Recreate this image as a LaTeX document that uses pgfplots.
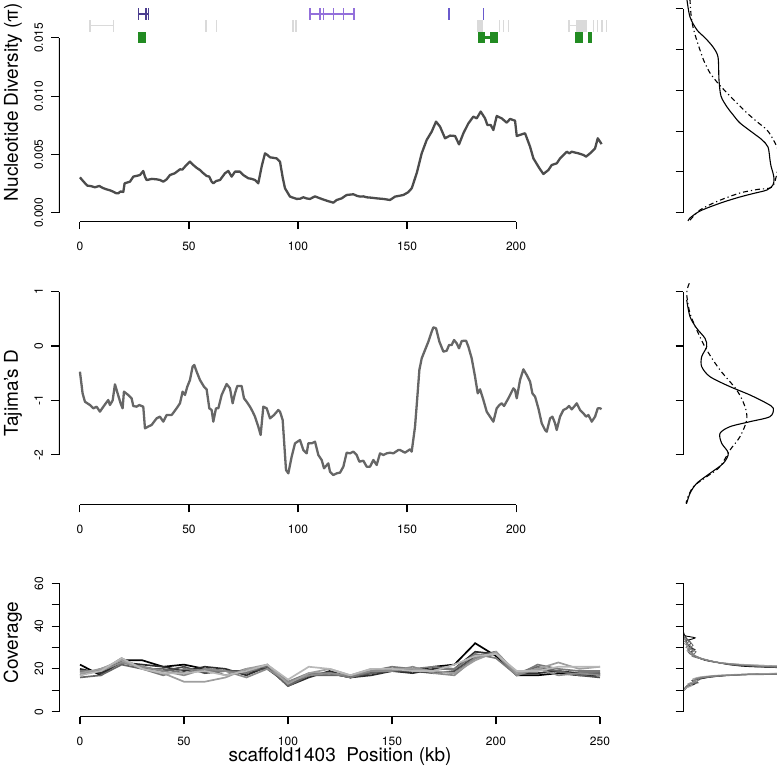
\documentclass[border=0pt]{standalone}
\usepackage{fontspec}
\setmainfont{TeX Gyre Heros}
\usepackage{pgfplots}
\pgfplotsset{compat=1.18}
\definecolor{darkslate}{HTML}{4B3D8F}
\definecolor{medpurple}{HTML}{9370DB}
\definecolor{slatepurple}{HTML}{6A5ACD}
\definecolor{fgreen}{HTML}{228B22}
\definecolor{annogray}{HTML}{DADADA}
\pgfplotsset{
  rbase/.style={scale only axis, tick align=outside, major tick length=7.5pt,
    tick style={black, line width=1.1pt},
    /pgf/number format/assume math mode=true, scaled ticks=false,
    axis x line*=bottom, axis y line*=left, axis line style={draw=none},
    xticklabel style={font=\fontsize{12}{14}\selectfont, anchor=north, inner sep=0pt, yshift=-12.5pt},
    yticklabel style={font=\fontsize{12}{14}\selectfont, rotate=90, anchor=base, inner sep=0pt, yshift=8.5pt},
    unbounded coords=jump, clip=true},
  rdens/.style={scale only axis, tick align=outside, major tick length=7.5pt,
    tick style={black, line width=1.1pt}, scaled ticks=false,
    hide x axis, axis y line*=left, axis line style={draw=none}, yticklabels={},
    xmin=0, xmax=94, width=94pt},
  solidd/.style={black, line width=1.1pt, smooth, tension=0.5},
  dashd/.style={black, line width=1.1pt, smooth, tension=0.5, dash pattern=on 5pt off 3pt on 1.2pt off 3pt},
}
\begin{document}
\begin{tikzpicture}
\useasboundingbox (0,0) rectangle (777pt,772pt);
%================ Panel 1: nucleotide diversity
\begin{axis}[rbase, at={(59pt,550.3pt)}, anchor=south west, width=565pt, height=221.7pt,
  xmin=-9.6, xmax=249.5, ymin=-0.000772, ymax=0.018241,
  xtick={0,50,100,150,200}, xticklabels={0,50,100,150,200},
  ytick={0,0.005,0.010,0.015}, yticklabels={0.000,0.005,0.010,0.015},
  ylabel={Nucleotide Diversity (π)},
  every axis y label/.style={at={(axis description cs:-0.0726,0.54)}, rotate=90, anchor=base, font=\fontsize{19}{22}\selectfont}]
\addplot[color=black!70, line width=2.3pt, line join=round] coordinates {
(0,0.00303)(1.5,0.00270)(3.36,0.00232)(5,0.00228)(6.88,0.00218)(8.87,0.00229)(10.5,0.00212)(12.23,0.00200)(13.8,0.00192)(15.29,0.00180)(16.5,0.00168)(17.58,0.00166)(18.6,0.00182)(19.88,0.00178)(20.5,0.00252)(22.94,0.00266)(24.46,0.00309)(26,0.00316)(27.52,0.00323)(29.05,0.00358)(29.82,0.00309)(30.58,0.00280)(33,0.00290)(35.17,0.00286)(36.8,0.00280)(38.23,0.00266)(39.76,0.00286)(41.28,0.00323)(43.5,0.00338)(45.87,0.00372)(47,0.00370)(48.17,0.00395)(50.46,0.00438)(51.99,0.00409)(53.5,0.00385)(55.05,0.00366)(56.5,0.00340)(58.10,0.00315)(59.3,0.00310)(60.40,0.00266)(61.16,0.00252)(62.5,0.00272)(64.22,0.00280)(66.51,0.00338)(68.04,0.00358)(69.57,0.00309)(71.10,0.00352)(73.39,0.00352)(74.92,0.00323)(77.22,0.00295)(78.8,0.00290)(80.28,0.00280)(81.80,0.00252)(83.33,0.00395)(84.86,0.00509)(86,0.00495)(87.16,0.00475)(90.21,0.00466)(91.74,0.00438)(93,0.00300)(94.04,0.00209)(96.33,0.00138)(99.39,0.00118)(101,0.00120)(102.45,0.00132)(104,0.00122)(105.50,0.00118)(107.80,0.00140)(110.09,0.00123)(113.15,0.00103)(116.21,0.00086)(117.74,0.00109)(120.03,0.00123)(122.32,0.00152)(125.38,0.00158)(127,0.00145)(128.44,0.00138)(130,0.00140)(131.50,0.00132)(134,0.00128)(136.09,0.00123)(139.14,0.00118)(142.20,0.00109)(144.50,0.00138)(146.79,0.00146)(148.32,0.00152)(150.5,0.00175)(152.14,0.00209)(154.43,0.00338)(156.73,0.00509)(159.02,0.00624)(161.31,0.00695)(163.30,0.00781)(165.14,0.00738)(167.43,0.00638)(169.72,0.00661)(172.02,0.00658)(173.85,0.00586)(175.84,0.00681)(178.13,0.00766)(180.43,0.00824)(181.96,0.00809)(183.79,0.00867)(185.78,0.00809)(186.85,0.00752)(188.38,0.00752)(189.60,0.00709)(191.13,0.00829)(193.43,0.00809)(195.72,0.00772)(197.25,0.00804)(199.54,0.00789)(200.31,0.00658)(202.60,0.00672)(204.13,0.00681)(206.42,0.00566)(207.95,0.00466)(210.70,0.00381)(212.54,0.00332)(214.83,0.00366)(216.36,0.00409)(218.65,0.00423)(220.18,0.00466)(223.24,0.00523)(224.46,0.00509)(225.53,0.00523)(228.59,0.00509)(230.89,0.00495)(232.11,0.00481)(233.94,0.00509)(236.24,0.00552)(237.46,0.00638)(238.53,0.00609)(239.2,0.00588)};
% annotations: gray
\addplot[annogray, line width=1.4pt] coordinates {(4.6,0.01552)(4.6,0.01653)(nan,nan)(15.3,0.01552)(15.3,0.01653)(nan,nan)(4.6,0.01603)(15.3,0.01603)(nan,nan)
 (57.8,0.01552)(57.8,0.01653)(nan,nan)(62.7,0.01552)(62.7,0.01653)(nan,nan)(97.8,0.01552)(97.8,0.01653)(nan,nan)(99.0,0.01552)(99.0,0.01653)(nan,nan)
 (192.5,0.01552)(192.5,0.01653)(nan,nan)(194.3,0.01552)(194.3,0.01653)(nan,nan)(196.4,0.01552)(196.4,0.01653)(nan,nan)
 (224.2,0.01552)(224.2,0.01653)(nan,nan)(224.2,0.01603)(227.7,0.01603)(nan,nan)(235.5,0.01552)(235.5,0.01653)(nan,nan)
 (237.3,0.01552)(237.3,0.01653)(nan,nan)(239.4,0.01552)(239.4,0.01653)(nan,nan)(241.4,0.01552)(241.4,0.01653)};
\addplot[fill=annogray, draw=none] coordinates {(182.0,0.01552)(185.0,0.01552)(185.0,0.01653)(182.0,0.01653)} -- cycle;
\addplot[fill=annogray, draw=none] coordinates {(227.7,0.01552)(232.4,0.01552)(232.4,0.01653)(227.7,0.01653)} -- cycle;
% purple annotations
\addplot[darkslate, line width=1.4pt] coordinates {(26.9,0.01653)(26.9,0.01753)(nan,nan)(30.3,0.01653)(30.3,0.01753)(nan,nan)(31.5,0.01653)(31.5,0.01753)(nan,nan)(26.9,0.01704)(31.5,0.01704)};
\addplot[medpurple, line width=1.4pt] coordinates {(105.5,0.01653)(105.5,0.01753)(nan,nan)(110.1,0.01653)(110.1,0.01753)(nan,nan)(111.6,0.01653)(111.6,0.01753)(nan,nan)(116.2,0.01653)(116.2,0.01753)(nan,nan)(120.8,0.01653)(120.8,0.01753)(nan,nan)(125.7,0.01653)(125.7,0.01753)(nan,nan)(105.5,0.01704)(125.7,0.01704)};
\addplot[slatepurple, line width=1.4pt] coordinates {(169.3,0.01653)(169.3,0.01753)(nan,nan)(185.0,0.01653)(185.0,0.01753)};
% green annotations
\addplot[fill=fgreen, draw=none] coordinates {(26.8,0.01453)(30.3,0.01453)(30.3,0.01552)(26.8,0.01552)} -- cycle;
\addplot[fill=fgreen, draw=none] coordinates {(182.4,0.01453)(185.8,0.01453)(185.8,0.01552)(182.4,0.01552)} -- cycle;
\addplot[fill=fgreen, draw=none] coordinates {(185.8,0.01490)(188.1,0.01490)(188.1,0.01515)(185.8,0.01515)} -- cycle;
\addplot[fill=fgreen, draw=none] coordinates {(188.1,0.01453)(191.6,0.01453)(191.6,0.01552)(188.1,0.01552)} -- cycle;
\addplot[fill=fgreen, draw=none] coordinates {(227.1,0.01453)(230.9,0.01453)(230.9,0.01552)(227.1,0.01552)} -- cycle;
\addplot[fill=fgreen, draw=none] coordinates {(233.2,0.01453)(234.7,0.01453)(234.7,0.01552)(233.2,0.01552)} -- cycle;
\draw[black, line width=1.1pt] (axis cs:0,-0.000772) -- (axis cs:200,-0.000772);
\draw[black, line width=1.1pt] (axis cs:-9.6,0) -- (axis cs:-9.6,0.015);
\end{axis}
\begin{axis}[rdens, at={(683pt,550.3pt)}, anchor=south west, height=221.7pt,
  ymin=-0.000772, ymax=0.018241, ytick={0,0.0035,0.007,0.0105,0.014,0.0175}]
\addplot[solidd] coordinates {(5,-0.00071)(7,-0.00045)(15,0.00005)(24,0.00040)(40,0.00090)(57,0.00135)(72,0.00168)(84,0.00195)(90,0.00238)(91,0.00290)(90,0.00340)(88,0.00400)(87,0.00452)(85,0.00563)(79,0.00625)(70,0.00684)(57,0.00769)(50,0.00840)(44,0.00907)(38,0.01000)(36,0.01138)(35,0.01335)(30,0.01421)(22,0.01500)(14,0.01567)(7,0.01678)(4,0.01824)};
\addplot[dashd] coordinates {(7,-0.00064)(17,0.00023)(35,0.00100)(57,0.00169)(75,0.00200)(89,0.00220)(94,0.00340)(95,0.00440)(95,0.00538)(90,0.00630)(84,0.00709)(74,0.00780)(64,0.00855)(54,0.00940)(44,0.01027)(35,0.01110)(27,0.01198)(21,0.01300)(17,0.01395)(13,0.01500)(10,0.01592)(8,0.01700)(7,0.01824)};
\draw[black, line width=1.1pt] (axis cs:0,0) -- (axis cs:0,0.0175);
\end{axis}
%================ Panel 2: Tajima's D
\begin{axis}[rbase, at={(59pt,267pt)}, anchor=south west, width=565pt, height=224pt,
  xmin=-9.6, xmax=249.5, ymin=-2.921, ymax=1.194,
  xtick={0,50,100,150,200}, xticklabels={0,50,100,150,200},
  ytick={-2,-1,0,1}, yticklabels={-2,-1,0,1},
  ylabel={Tajima's D},
  every axis y label/.style={at={(axis description cs:-0.0726,0.5)}, rotate=90, anchor=base, font=\fontsize{19}{22}\selectfont}]
\addplot[color=black!60, line width=2.3pt, line join=round] coordinates {
(0,-0.472)(1.22,-0.870)(2.29,-1.023)(4.59,-1.084)(6.12,-1.145)(7.65,-1.115)(9.17,-1.206)(11,-1.100)(13.00,-0.992)(13.76,-1.084)(15,-1.00)(16.06,-0.704)(17.5,-0.900)(18.65,-1.053)(19.57,-1.145)(20.18,-0.839)(22.17,-0.900)(23.70,-0.961)(24.46,-1.102)(25.99,-1.115)(27.22,-1.084)(29.05,-1.115)(29.82,-1.513)(31.3,-1.48)(32.87,-1.451)(35.17,-1.329)(36.70,-1.298)(38.23,-1.390)(39.76,-1.268)(42.05,-1.268)(44.34,-1.145)(45.87,-1.053)(47.09,-0.839)(48.17,-0.900)(49.24,-0.747)(50.46,-0.625)(51.68,-0.380)(52.45,-0.349)(53.52,-0.472)(55.05,-0.625)(56.88,-0.747)(58.10,-0.796)(59.33,-1.145)(60.40,-1.176)(61.16,-1.390)(62.39,-1.145)(63.46,-1.145)(64.98,-0.900)(67.28,-0.698)(68.81,-0.778)(70.03,-1.053)(71.10,-0.870)(72.17,-0.735)(74.16,-0.735)(75.23,-0.961)(76.45,-1.023)(77.98,-1.115)(79.20,-1.206)(80.28,-1.298)(81.80,-1.482)(82.87,-1.635)(84.10,-1.115)(85.63,-1.145)(87.16,-1.329)(88.99,-1.268)(90.98,-1.176)(91.74,-1.206)(92.97,-1.359)(94.50,-2.278)(95.57,-2.339)(97.09,-2.033)(98.62,-1.788)(100.92,-1.727)(102.45,-1.911)(103.98,-1.972)(104.74,-1.788)(106.27,-1.788)(107.80,-1.758)(109.33,-2.002)(110.86,-2.094)(111.93,-2.247)(113.91,-2.156)(114.68,-2.309)(116.21,-2.370)(117.74,-2.339)(119.27,-2.327)(120.80,-2.217)(122.32,-1.960)(123.85,-1.972)(125.38,-1.941)(126.91,-2.002)(128.13,-2.125)(129.97,-2.107)(131.50,-2.217)(133.03,-2.217)(134.56,-2.094)(136.09,-2.186)(137.61,-1.972)(139.14,-2.002)(140.67,-1.972)(142.20,-1.960)(143.73,-1.972)(146.02,-1.911)(146.79,-1.911)(149.08,-1.960)(151.38,-1.898)(152.14,-1.941)(153.67,-1.482)(154.74,-0.931)(155.66,-0.441)(156.73,-0.227)(158.26,-0.073)(159.79,0.080)(161.31,0.263)(162.08,0.343)(163.30,0.325)(164.83,0.080)(166.67,-0.104)(168.20,-0.086)(169.27,0.018)(170.49,0.018)(171.56,0.110)(172.78,0.049)(173.85,-0.043)(175.08,0.092)(177.06,0.098)(178.13,-0.012)(179.66,-0.227)(181.19,-0.563)(182.42,-0.870)(183.49,-0.796)(185.02,-0.992)(186.54,-1.206)(188.07,-1.298)(189.60,-1.390)(191.13,-1.145)(192.35,-1.084)(193.43,-1.053)(194.50,-1.102)(196.48,-0.961)(198.78,-0.778)(199.54,-0.808)(200.31,-0.961)(201.83,-0.625)(203.36,-0.429)(204.89,-0.533)(206.42,-0.655)(207.49,-0.870)(208.72,-0.931)(210.24,-1.145)(211.77,-1.421)(213.30,-1.543)(214.07,-1.574)(215.60,-1.329)(216.67,-1.298)(217.89,-1.421)(218.65,-1.543)(220.18,-1.298)(221.71,-1.176)(223.24,-1.145)(224.31,-1.102)(225.53,-1.164)(226.61,-1.115)(227.83,-1.053)(229.36,-1.176)(230.89,-1.237)(232.11,-1.298)(233.18,-1.268)(234.71,-1.390)(236.24,-1.298)(237.46,-1.145)(238.53,-1.145)(239.2,-1.16)};
\draw[black, line width=1.1pt] (axis cs:0,-2.921) -- (axis cs:200,-2.921);
\draw[black, line width=1.1pt] (axis cs:-9.6,-2) -- (axis cs:-9.6,1);
\end{axis}
\begin{axis}[rdens, at={(683pt,267pt)}, anchor=south west, height=224pt,
  ymin=-2.921, ymax=1.194, ytick={-2,-1,0,1}]
\addplot[solidd] coordinates {(3.7,0.845)(7,0.538)(13.7,0.325)(22,0.141)(23.7,-0.012)(18.7,-0.196)(18.7,-0.380)(27,-0.564)(47,-0.747)(67,-0.900)(83.7,-1.053)(90.3,-1.145)(87,-1.298)(67,-1.390)(47,-1.482)(37,-1.604)(38.7,-1.788)(45.3,-1.971)(40.3,-2.155)(27,-2.339)(13.7,-2.523)(7,-2.706)(3.7,-2.890)};
\addplot[dashd] coordinates {(6.3,1.152)(3.7,0.968)(7,0.601)(15.3,0.233)(23.7,-0.073)(37,-0.441)(53.7,-0.808)(62,-1.115)(63.7,-1.360)(57,-1.666)(47,-1.911)(37,-2.217)(23.7,-2.401)(10.3,-2.585)(3.7,-2.829)(3.5,-2.90)};
\draw[black, line width=1.1pt] (axis cs:0,-2) -- (axis cs:0,1);
\end{axis}
%================ Panel 3: Coverage
\begin{axis}[rbase, at={(59.2pt,55.2pt)}, anchor=south west, width=561.6pt, height=138.6pt,
  xmin=-10, xmax=260, ymin=-2.4, ymax=62.4,
  xtick={0,50,100,150,200,250}, xticklabels={0,50,100,150,200,250},
  ytick={0,10,20,30,40,50,60}, yticklabels={0,,20,,40,,60},
  ylabel={Coverage}, xlabel={scaffold1403\ \ Position (kb)},
  every axis y label/.style={at={(axis description cs:-0.0734,0.536)}, rotate=90, anchor=base, font=\fontsize{19}{22}\selectfont},
  every axis x label/.style={at={(axis description cs:0.5,-0.324)}, anchor=base, font=\fontsize{19}{22}\selectfont},
  cycle list={{black,line width=1.7pt},{black!82,line width=1.7pt},{black!70,line width=1.7pt},{black!60,line width=1.7pt},{black!52,line width=1.7pt},{black!45,line width=1.7pt},{black!38,line width=1.7pt},{black!28,line width=1.7pt}}]
\addplot coordinates {(0,22)(10,17)(20,24)(30,24)(40,21)(50,22)(60,20)(70,19)(80,18)(90,21)(100,13)(110,17)(120,18)(130,16)(140,18)(150,20)(160,19)(170,21)(180,22)(190,32)(200,26)(210,17)(220,17)(230,18)(240,17)(250,17)};
\addplot coordinates {(0,20)(10,18)(20,23)(30,22)(40,21)(50,19)(60,21)(70,20)(80,17)(90,21)(100,12)(110,16)(120,19)(130,16)(140,17)(150,19)(160,18)(170,20)(180,20)(190,28)(200,27)(210,18)(220,18)(230,19)(240,18)(250,18)};
\addplot coordinates {(0,17)(10,20)(20,23)(30,21)(40,19)(50,21)(60,18)(70,19)(80,19)(90,20)(100,13)(110,17)(120,18)(130,16)(140,18)(150,19)(160,19)(170,18)(180,19)(190,26)(200,28)(210,17)(220,20)(230,19)(240,17)(250,16)};
\addplot coordinates {(0,16)(10,17)(20,22)(30,20)(40,20)(50,18)(60,20)(70,17)(80,20)(90,21)(100,12)(110,17)(120,17)(130,17)(140,18)(150,20)(160,20)(170,19)(180,18)(190,25)(200,28)(210,18)(220,21)(230,19)(240,17)(250,18)};
\addplot coordinates {(0,19)(10,19)(20,25)(30,20)(40,17)(50,20)(60,19)(70,19)(80,18)(90,22)(100,14)(110,18)(120,18)(130,16)(140,19)(150,21)(160,20)(170,21)(180,20)(190,27)(200,25)(210,17)(220,22)(230,20)(240,19)(250,19)};
\addplot coordinates {(0,18)(10,19)(20,23)(30,21)(40,19)(50,17)(60,20)(70,19)(80,16)(90,20)(100,14)(110,17)(120,18)(130,17)(140,19)(150,19)(160,21)(170,18)(180,17)(190,25)(200,27)(210,17)(220,20)(230,17)(240,18)(250,17)};
\addplot coordinates {(0,18)(10,20)(20,24)(30,20)(40,18)(50,14)(60,14)(70,16)(80,20)(90,22)(100,13)(110,18)(120,20)(130,17)(140,20)(150,20)(160,20)(170,19)(180,18)(190,24)(200,28)(210,18)(220,20)(230,23)(240,20)(250,21)};
\addplot coordinates {(0,17)(10,19)(20,25)(30,20)(40,18)(50,18)(60,19)(70,17)(80,19)(90,22)(100,15)(110,21)(120,20)(130,17)(140,20)(150,20)(160,19)(170,19)(180,22)(190,26)(200,27)(210,19)(220,19)(230,21)(240,21)(250,21)};
\draw[black, line width=1.1pt] (axis cs:0,-2.4) -- (axis cs:250,-2.4);
\draw[black, line width=1.1pt] (axis cs:-10,0) -- (axis cs:-10,60);
\end{axis}
\begin{axis}[rdens, at={(683pt,55.2pt)}, anchor=south west, height=138.6pt,
  ymin=-2.4, ymax=62.4, ytick={0,10,20,30,40,50,60},
  cycle list={{black,line width=0.9pt},{black!80,line width=0.9pt},{black!65,line width=0.9pt},{black!55,line width=0.9pt},{black!45,line width=0.9pt},{black!35,line width=0.9pt},{black!50,line width=0.9pt}}]
\addplot+[smooth, tension=0.4, no marks] coordinates {(1,37)(2,35.5)(12,34.5)(3,33)(5,31)(10,29)(8,27)(14,25.5)(22,24)(40,22.5)(70,21)(200,19.8)(200,18.8)(70,17.6)(40,16.8)(25,16)(15,15)(10,14)(12,13)(6,12)(3,11)(1,10)};
\addplot+[smooth, tension=0.4, no marks] coordinates {(1,36)(4,34)(8,32)(4,30.5)(12,29)(6,27.5)(16,25)(30,23.5)(50,22)(94,20.6)(200,19.6)(200,18.6)(94,17.8)(45,17)(22,16.2)(12,15.3)(14,14.2)(7,13)(4,12)(1,10.5)};
\addplot+[smooth, tension=0.4, no marks] coordinates {(1,35)(6,33)(3,31.5)(9,30)(5,28)(11,26.5)(18,25)(35,23)(60,21.5)(200,20.2)(200,19)(80,17.7)(35,16.5)(18,15.5)(9,14.5)(15,13.5)(5,12.5)(2,11)};
\addplot+[smooth, tension=0.4, no marks] coordinates {(2,34)(7,32.5)(10,31)(6,29.5)(13,28)(9,26)(20,24.5)(40,22.8)(94,20.8)(200,19.5)(200,18.2)(60,17.2)(28,16.5)(14,15.8)(16,14.8)(8,13.5)(10,12.5)(3,11.5)(1,10)};
\addplot+[smooth, tension=0.4, no marks] coordinates {(1,33)(5,31.5)(3,30)(11,28.5)(7,27)(15,25.5)(25,24)(50,22.2)(150,20.5)(200,19.2)(100,18)(40,16.9)(20,16)(10,15)(12,14)(5,13)(6,12)(2,11)};
\addplot+[smooth, tension=0.4, no marks] coordinates {(1,32)(6,30)(4,28.5)(10,27)(14,25.5)(24,24)(45,22.5)(120,20.8)(200,19.8)(200,18.5)(90,17.9)(40,17.2)(18,16.3)(10,15.3)(14,14.3)(6,13.2)(9,12.2)(3,11)(1,10)};
\addplot+[smooth, tension=0.4, no marks] coordinates {(1,34.5)(4,32)(8,30.5)(5,29)(9,27.5)(12,26)(22,24.3)(38,22.8)(80,21.2)(200,20)(200,18.4)(70,17.5)(30,16.7)(16,15.7)(11,14.6)(13,13.8)(6,12.8)(2,11.2)};
\draw[black, line width=1.1pt] (axis cs:0,0) -- (axis cs:0,60);
\end{axis}
\end{tikzpicture}
\end{document}
